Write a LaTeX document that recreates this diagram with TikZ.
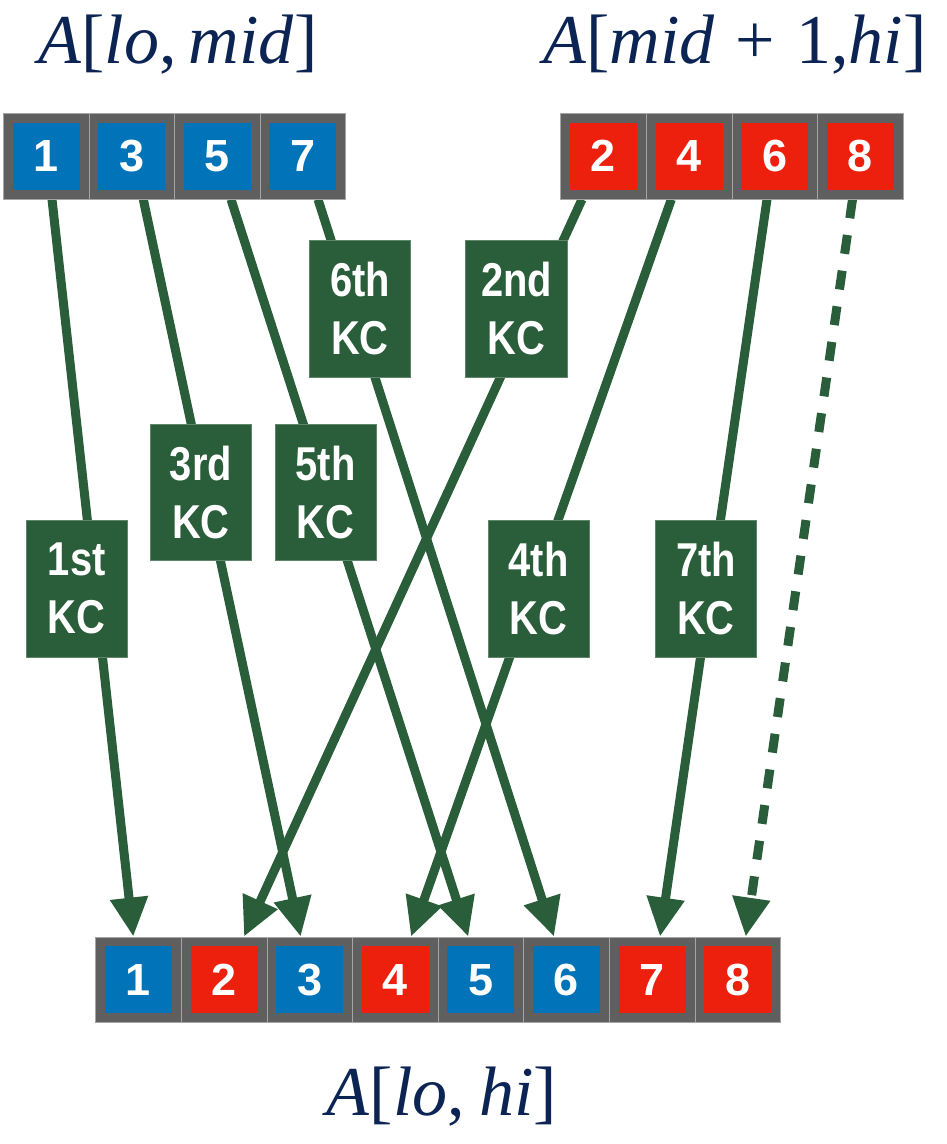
\documentclass[tikz,border=0pt]{standalone}
\usepackage{fontspec}
\setmainfont{Liberation Serif}
\newfontfamily\numfont{Liberation Sans}
\newfontfamily\kcfont[FakeStretch=0.84]{Liberation Sans}
\usetikzlibrary{arrows.meta,backgrounds}
\definecolor{kcgreen}{RGB}{42,94,58}
\definecolor{cellblue}{RGB}{0,115,185}
\definecolor{cellred}{RGB}{237,32,14}
\definecolor{cellgray}{RGB}{95,95,95}
\definecolor{sepgray}{RGB}{165,165,165}
\definecolor{navy}{RGB}{12,36,84}
\tikzset{
  cell/.style={minimum width=85.6pt, minimum height=85.6pt, inner sep=0pt,
    fill=cellgray, draw=sepgray, line width=0.8pt, text=white,
    font=\numfont\bfseries\fontsize{45}{45}\selectfont,
    path picture={\fill[#1] ([shift={(9.3pt,9.3pt)}]path picture bounding box.south west)
      rectangle ([shift={(-9.3pt,-9.3pt)}]path picture bounding box.north east);}},
  kcbox/.style={fill=kcgreen, draw=kcgreen!75!white, line width=0.6pt,
    minimum width=101.5pt, minimum height=136.7pt, inner sep=0pt,
    text=white, align=center, font=\kcfont\bfseries\fontsize{47.5}{58}\selectfont},
  conn/.style={draw=kcgreen, line width=9pt, -{Triangle[width=36pt,length=39pt]}},
  lbl/.style={text=navy, font=\fontsize{70}{70}\selectfont, anchor=base, inner sep=0pt}
}
\begin{document}
\begin{tikzpicture}[x=1pt,y=-1pt]
\useasboundingbox (0,0) rectangle (946,1144);
% titles
\node[lbl] (ttl) at (178,63) {\textit{A}[\textit{lo},\kern0.17em\textit{mid}]};
\node[lbl] (ttr) at (735,63) {\textit{A}[\textit{mid}\kern0.3em+\kern0.3em1,\textit{hi}]};
\node[lbl] (tbot) at (442,1115) {\textit{A}[\textit{lo},\kern0.2em\textit{hi}]};
% top-left array
\node[cell=cellblue] (t1) at (46.1,156.2) {1};
\node[cell=cellblue] (t2) at (131.7,156.2) {3};
\node[cell=cellblue] (t3) at (217.3,156.2) {5};
\node[cell=cellblue] (t4) at (302.9,156.2) {7};
% top-right array
\node[cell=cellred] (r1) at (603.5,156.2) {2};
\node[cell=cellred] (r2) at (689.1,156.2) {4};
\node[cell=cellred] (r3) at (774.7,156.2) {6};
\node[cell=cellred] (r4) at (860.3,156.2) {8};
% bottom array
\node[cell=cellblue] (b1) at (138.5,979.8) {1};
\node[cell=cellred]  (b2) at (224.1,979.8) {2};
\node[cell=cellblue] (b3) at (309.7,979.8) {3};
\node[cell=cellred]  (b4) at (395.3,979.8) {4};
\node[cell=cellblue] (b5) at (480.9,979.8) {5};
\node[cell=cellblue] (b6) at (566.5,979.8) {6};
\node[cell=cellred]  (b7) at (652.1,979.8) {7};
\node[cell=cellred]  (b8) at (737.7,979.8) {8};
% connectors
\begin{pgfonlayer}{background}
\draw[conn] ([xshift=5.9pt]t1.south) -- ([xshift=-5.2pt]b1.north);
\draw[conn] ([xshift=-21.5pt]r1.south) -- ([xshift=19.9pt]b2.north);
\draw[conn] ([xshift=11.6pt]t2.south) -- ([xshift=-9pt]b3.north);
\draw[conn] ([xshift=-17.8pt]r2.south) -- ([xshift=15.7pt]b4.north);
\draw[conn] ([xshift=13.7pt]t3.south) -- ([xshift=-12.6pt]b5.north);
\draw[conn] ([xshift=15.1pt]t4.south) -- ([xshift=-12.5pt]b6.north);
\draw[conn] ([xshift=-7.7pt]r3.south) -- ([xshift=7.9pt]b7.north);
\draw[conn, dash pattern=on 19pt off 17pt] ([xshift=-7.8pt]r4.south) -- ([xshift=8pt]b8.north);
\end{pgfonlayer}
% labels
\node[kcbox] (k1) at (76.8,588.7) {1st\\KC};
\node[kcbox] (k2) at (516.5,308.7) {2nd\\KC};
\node[kcbox] (k3) at (201,492.3) {3rd\\KC};
\node[kcbox] (k4) at (538.7,588.7) {4th\\KC};
\node[kcbox] (k5) at (325.7,492.3) {5th\\KC};
\node[kcbox] (k6) at (360,308.7) {6th\\KC};
\node[kcbox] (k7) at (706,588.7) {7th\\KC};
\end{tikzpicture}
\end{document}
